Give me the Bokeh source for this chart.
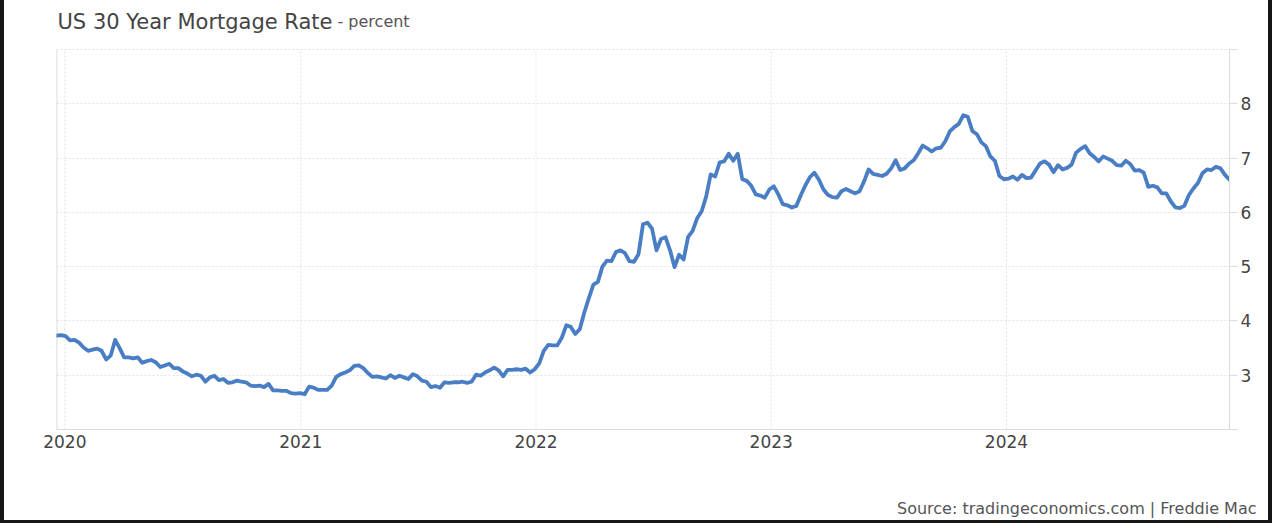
import pandas as pd
from bokeh.plotting import figure
from bokeh.models import (Range1d, FixedTicker, DatetimeTickFormatter, Label, Title,
                          DatetimeAxis)
from bokeh.embed import file_html
from bokeh.resources import INLINE

# ---- data (weekly readings) ----
first_week = "2019-12-19"
rates_dec2019 = [3.73, 3.74]
rates_2020 = [3.72, 3.64, 3.65, 3.60, 3.51,
              3.45, 3.47, 3.49, 3.45,
              3.29, 3.36, 3.65, 3.50,
              3.33, 3.33, 3.31, 3.33, 3.23,
              3.26, 3.28, 3.24, 3.15,
              3.18, 3.21, 3.13, 3.13,
              3.07, 3.03, 2.98, 3.01, 2.99,
              2.88, 2.96, 2.99, 2.91,
              2.93, 2.86, 2.87, 2.90,
              2.88, 2.87, 2.81, 2.80, 2.81,
              2.78, 2.84, 2.72, 2.72,
              2.71, 2.71, 2.67, 2.66, 2.67]
rates_2021 = [2.65, 2.79, 2.77, 2.73,
              2.73, 2.73, 2.81, 2.97,
              3.02, 3.05, 3.09, 3.17,
              3.18, 3.13, 3.04, 2.97, 2.98,
              2.96, 2.94, 3.00, 2.95,
              2.99, 2.96, 2.93, 3.02,
              2.98, 2.90, 2.88, 2.78, 2.80,
              2.77, 2.87, 2.86, 2.87,
              2.87, 2.88, 2.86, 2.88, 3.01,
              2.99, 3.05, 3.09, 3.14,
              3.09, 2.98, 3.10, 3.10,
              3.11, 3.10, 3.12, 3.05, 3.11]
rates_2022 = [3.22, 3.45, 3.56, 3.55,
              3.55, 3.69, 3.92, 3.89,
              3.76, 3.85, 4.16, 4.42, 4.67,
              4.72, 5.00, 5.11, 5.10,
              5.27, 5.30, 5.25, 5.10,
              5.09, 5.23, 5.78, 5.81, 5.70,
              5.30, 5.51, 5.54, 5.30,
              4.99, 5.22, 5.13, 5.55,
              5.66, 5.89, 6.02, 6.29, 6.70,
              6.66, 6.92, 6.94, 7.08,
              6.95, 7.08, 6.61, 6.58,
              6.49, 6.33, 6.31, 6.27, 6.42]
rates_2023 = [6.48, 6.33, 6.15, 6.13,
              6.09, 6.12, 6.32, 6.50,
              6.65, 6.73, 6.60, 6.42, 6.32,
              6.28, 6.27, 6.39, 6.43,
              6.39, 6.35, 6.39, 6.57,
              6.79, 6.71, 6.69, 6.67, 6.71,
              6.81, 6.96, 6.78, 6.81,
              6.90, 6.96, 7.09, 7.23, 7.18,
              7.12, 7.18, 7.19, 7.31,
              7.49, 7.57, 7.63, 7.79,
              7.76, 7.50, 7.44, 7.29, 7.22,
              7.03, 6.95, 6.67, 6.61]
rates_2024 = [6.62, 6.66, 6.60, 6.69,
              6.63, 6.64, 6.77, 6.90, 6.94,
              6.88, 6.74, 6.87, 6.79,
              6.82, 6.88, 7.10, 7.17,
              7.22, 7.09, 7.02, 6.94, 7.03,
              6.99, 6.95, 6.87, 6.86,
              6.95, 6.89, 6.77, 6.78,
              6.73, 6.47, 6.49, 6.46, 6.35,
              6.35, 6.20, 6.09, 6.08,
              6.12, 6.32, 6.44, 6.54, 6.72,
              6.79, 6.78, 6.84, 6.81,
              6.69, 6.60]
year_labels = ["2020", "2021", "2022", "2023", "2024"]
y_ticks = [2, 3, 4, 5, 6, 7, 8, 9]
title_text = "US 30 Year Mortgage Rate"
unit_text = " - percent"
source_text = "Source: tradingeconomics.com | Freddie Mac"

rates = rates_dec2019 + rates_2020 + rates_2021 + rates_2022 + rates_2023 + rates_2024
dates = pd.date_range(first_week, periods=len(rates), freq="7D")

def ms(ts):
    return float(pd.Timestamp(ts).value // 10**6)

x0, x1 = ms(dates[0]), ms(dates[-1])
year_ticks = [ms(f"{y}-01-01") for y in year_labels]
y_lo, y_hi = y_ticks[0], y_ticks[-1]

FONT = "DejaVu Sans"
GRID = "#e3e3e3"
AXIS = "#dcdcdc"

# frame extends to the top of the canvas so the title can sit inside it
PLOT_H = 380          # pixel height of the 2..9 band
TOP_GAP = 49         # pixels above the 9 line
y_top = y_hi + TOP_GAP * (y_hi - y_lo) / PLOT_H

p = figure(width=1272, height=523, x_axis_type="datetime", y_axis_location="right",
           x_range=Range1d(x0, x1), y_range=Range1d(y_lo, y_top),
           output_backend="svg", toolbar_location=None,
           min_border_left=52, min_border_right=47, min_border_top=0, min_border_bottom=94)
p.styles = {"border-left": "4px solid #161616", "border-right": "4px solid #161616",
            "border-bottom": "3px solid #161616"}
p.background_fill_color = "white"
p.border_fill_color = "white"
p.outline_line_color = None

# vertical year grid lines (dotted) and left edge
p.segment(x0=year_ticks, y0=y_lo, x1=year_ticks, y1=y_hi,
          line_color=GRID, line_dash="2 2", line_width=1)
p.segment(x0=[x0], y0=y_lo, x1=[x0], y1=y_hi, line_color=AXIS, line_width=2)

p.line([d.to_pydatetime() for d in dates], rates, line_color="#4a7ec4", line_width=3.8,
       line_join="round", line_cap="round")

# x axis
xa = p.xaxis[0]
xa.ticker = FixedTicker(ticks=year_ticks)
xa.formatter = DatetimeTickFormatter(years="%Y", months="%Y", days="%Y", hours="%Y",
                                     minutes="%Y", seconds="%Y", milliseconds="%Y",
                                     microseconds="%Y", hourmin="%Y", minsec="%Y")
xa.axis_line_color = AXIS
xa.major_tick_out = 0
xa.major_tick_in = 0
xa.minor_tick_line_color = None
xa.major_label_standoff = 5
xa.major_label_text_font = FONT
xa.major_label_text_font_size = "17px"
xa.major_label_text_color = "#444444"
p.xgrid.visible = False

# blank spacer axis (one white tick, empty label, no line) pushes the source line down
spacer = DatetimeAxis(ticker=FixedTicker(ticks=[x0]), axis_line_color=None,
                      major_tick_line_color="#ffffff", minor_tick_line_color=None,
                      major_tick_out=44, major_tick_in=0, major_label_standoff=0,
                      major_label_overrides={x0: ""})
p.add_layout(spacer, "below")

# y axis (right)
ya = p.yaxis[0]
ya.ticker = FixedTicker(ticks=y_ticks)
ya.bounds = (y_lo, y_hi)
ya.major_label_overrides = {y_lo: "", y_hi: ""}
ya.axis_line_color = AXIS
ya.major_tick_line_color = AXIS
ya.major_tick_out = 8
ya.major_tick_in = 0
ya.minor_tick_line_color = None
ya.major_label_standoff = 3
ya.major_label_text_font = FONT
ya.major_label_text_font_size = "17px"
ya.major_label_text_color = "#444444"

g = p.ygrid[0]
g.grid_line_color = GRID
g.grid_line_dash = "2 2"
g.grid_line_width = 1

# title
p.add_layout(Label(x=x0, y=y_hi, x_offset=1, y_offset=28, text=title_text,
                   text_font=FONT, text_font_size="21px", text_color="#444444",
                   text_baseline="alphabetic", text_align="left"))
p.add_layout(Label(x=x0, y=y_hi, x_offset=281, y_offset=28, text=unit_text,
                   text_font=FONT, text_font_size="16px", text_color="#555555",
                   text_baseline="alphabetic", text_align="left"))

# source line below the axis
p.add_layout(Title(text=source_text, align="right", vertical_align="bottom",
                   text_font=FONT, text_font_size="16px", text_font_style="normal",
                   text_color="#555555", offset=-27, standoff=4), "below")

open("out.html", "w").write(file_html(p, INLINE))
